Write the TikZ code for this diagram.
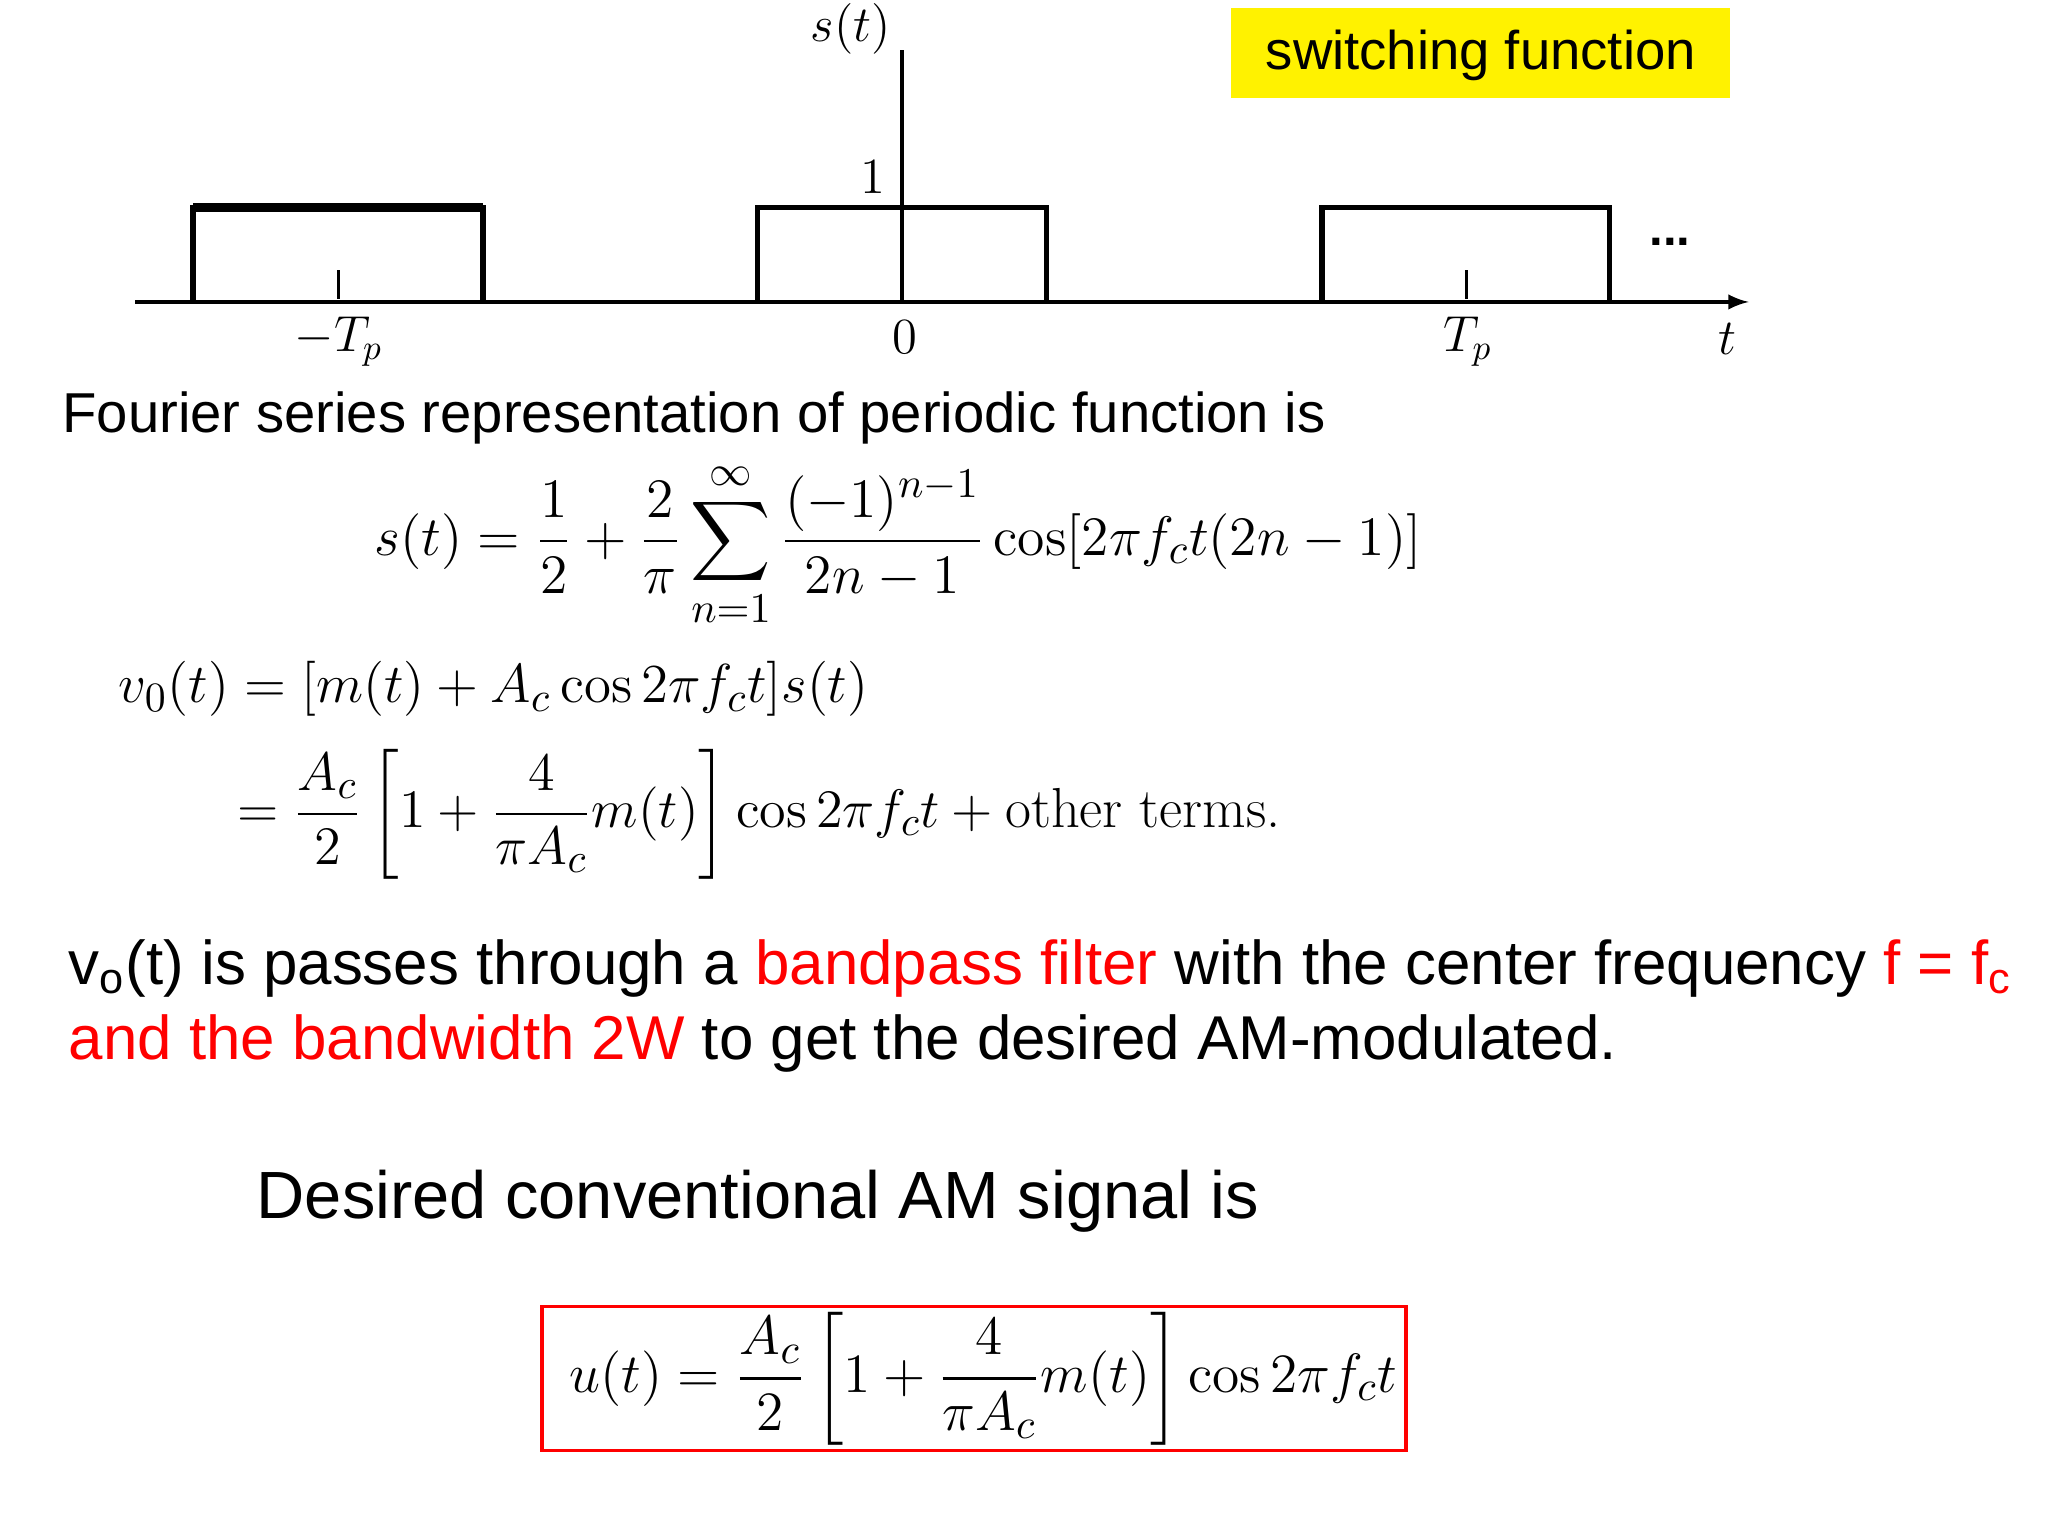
\documentclass[tikz,border=0pt]{standalone}
\usepackage{amsmath}
\usepackage[no-math]{fontspec}
\setmainfont{Liberation Sans}
\newcommand{\lmr}{\fontspec{Latin Modern Roman}}
\begin{document}
\begin{tikzpicture}[x=0.013128cm,y=-0.013128cm,
  lab/.style={inner sep=0pt,font=\fontsize{14}{16}\selectfont},
  txt/.style={inner sep=0pt,anchor=west},
  eq/.style={inner sep=0pt,font=\fontsize{15}{18}\selectfont},
  pulse/.style={line width=1.6pt}]
\useasboundingbox (0,0) rectangle (1560,1170);
% axes
\coordinate (xa) at (103,230); \coordinate (xb) at (1332,230);
\draw[line width=1pt,-latex] (xa) -- (xb);
\coordinate (ya) at (687,230); \coordinate (yb) at (687,38);
\draw[line width=1pt] (ya) -- (yb);
\draw[pulse] (147,230) -- (147,158) -- (368,158) -- (368,230);
\draw[line width=2.4pt] (147,158) -- (368,158);
\draw[pulse] (577,230) -- (577,158) -- (797,158) -- (797,230);
\draw[pulse] (1007,230) -- (1007,158) -- (1226,158) -- (1226,230);
\draw[line width=0.8pt] (258,206) -- (258,228);
\draw[line width=0.8pt] (1117,206) -- (1117,228);
\node[lab] (st) at (648,22) {$s(t)$};
\node[lab] (one) at (665,135) {$1$};
\node[lab] (zero) at (689,257) {$0$};
\node[lab] (mtp) at (258,260) {$-T_p$};
\node[lab] (tp) at (1118,260) {$T_p$};
\node[lab] (tt) at (1316,258) {$t$};
\node[lab] (dots) at (1272,184) {\textbf{...}};
\fill[yellow] (938,6) rectangle (1318,75);
\node[inner sep=0pt,font=\fontsize{15.5}{18}\selectfont] (sw) at (1128,42) {switching function};
% texts
\node[txt,font=\fontsize{16}{19}\selectfont] (fs) at (47,318) {Fourier series representation of periodic function is};
\node[eq] (e1) at (684,415) {\scalebox{1.1}{$s(t)=\dfrac{1}{2}+\dfrac{2}{\pi}\displaystyle\sum_{n=1}^{\infty}\dfrac{(-1)^{n-1}}{2n-1}\cos[2\pi f_c t(2n-1)]$}};
\node[eq,anchor=west] (e2) at (90,525) {\scalebox{1.085}{$v_0(t)=[m(t)+A_c\cos 2\pi f_c t]s(t)$}};
\node[eq,anchor=west] (e3) at (180,620) {\scalebox{1.07}{$=\dfrac{A_c}{2}\left[1+\dfrac{4}{\pi A_c}m(t)\right]\cos 2\pi f_c t+\text{\lmr other terms.}$}};
\node[txt,font=\fontsize{17.6}{21}\selectfont] (v1) at (52,738) {v\textsubscript{o}(t) is passes through a \textcolor{red}{bandpass filter} with the center frequency \textcolor{red}{f = f\textsubscript{c}}};
\node[txt,font=\fontsize{17.6}{21}\selectfont] (v2) at (52,795) {\textcolor{red}{and the bandwidth 2W} to get the desired AM-modulated.};
\node[txt,font=\fontsize{19}{23}\selectfont] (des) at (195,915) {Desired conventional AM signal is};
\draw[red,line width=1pt] (413,995) rectangle (1071,1105);
\node[eq] (u) at (749,1050) {\scalebox{1.095}{$u(t)=\dfrac{A_c}{2}\left[1+\dfrac{4}{\pi A_c}m(t)\right]\cos 2\pi f_c t$}};
\end{tikzpicture}
\end{document}
